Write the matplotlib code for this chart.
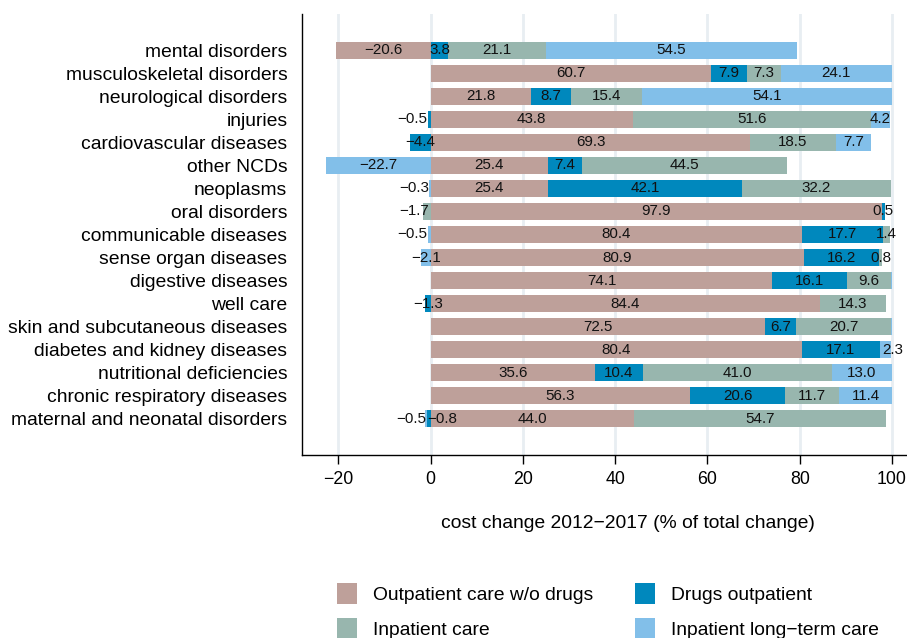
import numpy as np
import matplotlib
matplotlib.use("Agg")
import matplotlib.pyplot as plt
from matplotlib.patches import Patch

plt.rcParams['font.family'] = ['Liberation Sans', 'DejaVu Sans']

categories = [
    "mental disorders", "musculoskeletal disorders", "neurological disorders",
    "injuries", "cardiovascular diseases", "other NCDs", "neoplasms",
    "oral disorders", "communicable diseases", "sense organ diseases",
    "digestive diseases", "well care", "skin and subcutaneous diseases",
    "diabetes and kidney diseases", "nutritional deficiencies",
    "chronic respiratory diseases", "maternal and neonatal disorders",
]
series_names = ["Outpatient care w/o drugs", "Drugs outpatient",
                "Inpatient care", "Inpatient long\u2212term care"]

outpatient = [-20.6, 60.7, 21.8, 43.8, 69.3, 25.4, 25.4, 97.9, 80.4, 80.9,
              74.1, 84.4, 72.5, 80.4, 35.6, 56.3, 44.0]
drugs = [3.8, 7.9, 8.7, -0.5, -4.4, 7.4, 42.1, 0.5, 17.7, 16.2,
         16.1, -1.3, 6.7, 17.1, 10.4, 20.6, -0.8]
inpatient = [21.1, 7.3, 15.4, 51.6, 18.5, 44.5, 32.2, -1.7, 1.4, 0.8,
             9.6, 14.3, 20.7, 0.0, 41.0, 11.7, 54.7]
longterm = [54.5, 24.1, 54.1, 4.2, 7.7, -22.7, -0.3, 0.0, -0.5, -2.1,
            0.2, 0.0, 0.1, 2.3, 13.0, 11.4, -0.5]

colors = ["#bea09a", "#0088bd", "#98b6ae", "#82bfe9"]

# manual label nudges (data units) for crowded small segments
nudges = {
    (3, 1): -3.65, (8, 3): -3.65, (6, 3): -3.35, (7, 2): -2.65,
    (16, 3): -3.25, (16, 1): 3.0, (13, 3): 1.5,
}

W, H = 907, 638
fig = plt.figure(figsize=(W / 100, H / 100), dpi=100)
ax_left, ax_top, ax_bottom, ax_right = 302, 14, 455, 915
ax = fig.add_axes([ax_left / W, (H - ax_bottom) / H,
                   (ax_right - ax_left) / W, (ax_bottom - ax_top) / H])

data = np.array([outpatient, drugs, inpatient, longterm])
y = np.arange(len(categories))
pos_base = np.zeros(len(categories))
neg_base = np.zeros(len(categories))
bar_h = 0.73
for s in range(4):
    vals = data[s]
    left = np.where(vals >= 0, pos_base, neg_base)
    ax.barh(y, vals, left=left, height=bar_h, color=colors[s], zorder=2,
            linewidth=0)
    for i, v in enumerate(vals):
        if abs(v) >= 0.3:
            cx = left[i] + v / 2 + nudges.get((i, s), 0.0)
            txt = f"{v:.1f}".replace("-", "\u2212")
            ax.text(cx, y[i], txt, ha="center", va="center",
                    fontsize=10.9, color="#111111", zorder=3)
    pos_base = pos_base + np.where(vals >= 0, vals, 0)
    neg_base = neg_base + np.where(vals < 0, vals, 0)

ax.set_xlim(-27.9, 105)
ax.set_ylim(len(categories) - 1 + 1.57, -1.57)
ax.set_yticks(y)
ax.set_yticklabels(categories, fontsize=13.9)
ax.tick_params(axis="y", length=0, pad=10.5)
ax.set_xticks([-20, 0, 20, 40, 60, 80, 100])
ax.tick_params(axis="x", length=6.5, width=1.0, pad=5, labelsize=12.8,
               direction="out")
ax.grid(axis="x", color="#e8eef2", linewidth=2, zorder=0)
ax.grid(axis="y", visible=False)
for sp in ["top", "right"]:
    ax.spines[sp].set_visible(False)
for sp in ["left", "bottom"]:
    ax.spines[sp].set_linewidth(1.0)
ax.set_facecolor("white")

fig.text(628 / W, (H - 523) / H,
         "cost change 2012\u22122017 (% of total change)",
         ha="center", va="center", fontsize=13.9)

handles = [Patch(facecolor=colors[0], label=series_names[0]),
           Patch(facecolor=colors[2], label=series_names[2]),
           Patch(facecolor=colors[1], label=series_names[1]),
           Patch(facecolor=colors[3], label=series_names[3])]
fig.legend(handles=handles, ncol=2, frameon=False, loc="upper left",
           bbox_to_anchor=(337 / W, (H - 583) / H), borderaxespad=0,
           borderpad=0, fontsize=13.9, handlelength=1.04, handleheight=1.3,
           handletextpad=0.8, columnspacing=2.2, labelspacing=0.7)

fig.savefig("out.png", dpi=100)
